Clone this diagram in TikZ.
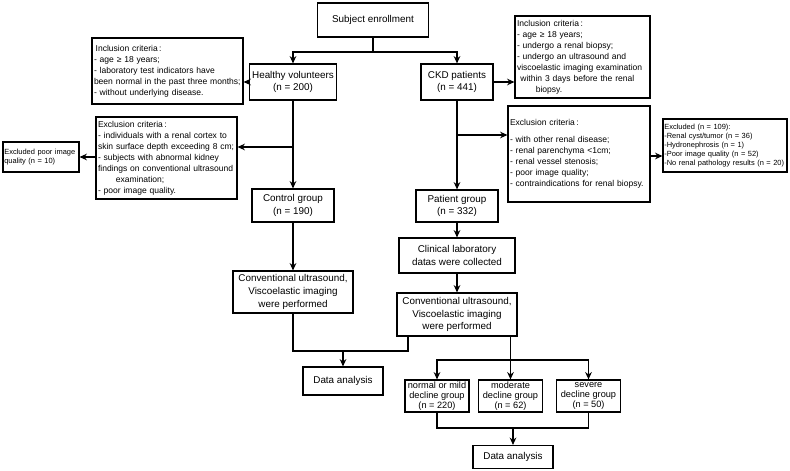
\documentclass[tikz,border=0pt]{standalone}
\usepackage{fontspec}
\setmainfont{Liberation Sans}
\usetikzlibrary{arrows.meta}

\tikzset{
  box/.style={draw, rectangle, align=center, inner sep=1.5pt,
    font=\fontsize{7.4}{9.5}\selectfont},
  subbox/.style={box, inner ysep=1pt, font=\fontsize{6.9}{7.5}\selectfont},
  crit/.style={draw, rectangle, align=left, inner xsep=1.5pt, inner ysep=1pt,
    font=\fontsize{6.4}{8.2}\selectfont},
  tinycrit/.style={crit, inner xsep=1pt, font=\fontsize{5.6}{6.8}\selectfont},
  arr/.style={-{Stealth[length=5.5pt,width=5pt]}}
}

\begin{document}
\begin{tikzpicture}[x=0.75pt, y=-0.75pt, line width=0.9pt]
        \useasboundingbox (0,0) rectangle (790,471);
        % Define the nodes
        \node[box, minimum width=83pt, minimum height=25.5pt]   (enroll)   at (373,20)    {Subject enrollment};
        \node[box, minimum width=65pt, minimum height=27pt]     (healthy)  at (293,82)    {Healthy volunteers\\(n = 200)};
        \node[box, minimum width=54pt, minimum height=27pt]     (ckd)      at (457,82)    {CKD patients\\(n = 441)};
        \node[crit, text width=110.25pt, minimum height=49.5pt] (hinc)     at (167.5,71)  {\hspace*{0.2em}Inclusion criteria\,:\\
            - age ≥ 18 years;\\
            - laboratory test indicators have\\
            been normal in the past three months;\\
            - without underlying disease.};
        \node[crit, text width=98.25pt, minimum height=61.5pt]  (cinc)     at (582.5,57)  {Inclusion criteria\,:\\
            - age ≥ 18 years;\\
            - undergo a renal biopsy;\\
            - undergo an ultrasound and\\
            viscoelastic imaging examination\\
            \hspace*{0.4em}within 3 days before the renal\\
            \hspace*{2.2em}biopsy.};
        \node[crit, text width=102.75pt, minimum height=61.5pt] (hexc)     at (166.5,158) {Exclusion criteria\,:\\
            - individuals with a renal cortex to\\
            skin surface depth exceeding 8 cm;\\
            - subjects with abnormal kidney\\
            findings on conventional ultrasound\\
            \hspace*{2.1em}examination;\\
            - poor image quality.};
        \node[tinycrit, text width=55pt, minimum height=22.5pt] (hpoor)    at (41,157)    {Excluded poor image\\quality (n = 10)};
        \node[crit, text width=103.5pt, minimum height=72pt]    (cexc)     at (579,154)   {Exclusion criteria\,:\\[4.5pt]
            - with other renal disease;\\
            - renal parenchyma <1cm;\\
            - renal vessel stenosis;\\
            - poor image quality;\\
            - contraindications for renal biopsy.};
        \node[tinycrit, text width=91pt, minimum height=39.75pt] (cexcl)   at (725,145.5) {Excluded (n = 109):\\
            -Renal cyst/tumor (n = 36)\\
            -Hydronephrosis (n = 1)\\
            -Poor image quality (n = 52)\\
            -No renal pathology results (n = 20)};
        \node[box, minimum width=61.5pt, minimum height=24.75pt] (control) at (293,205.5) {Control group\\(n = 190)};
        \node[box, minimum width=61.5pt, minimum height=24pt]    (patient) at (457,206)   {Patient group\\(n = 332)};
        \node[box, minimum width=87pt, minimum height=26.25pt]   (clin)    at (457,255.5) {Clinical laboratory\\datas were collected};
        \node[box, minimum width=90pt, minimum height=31.5pt]    (lconv)   at (293,292)   {Conventional ultrasound,\\Viscoelastic imaging\\were performed};
        \node[box, minimum width=90pt, minimum height=32.25pt]   (rconv)   at (457,314.5) {Conventional ultrasound,\\Viscoelastic imaging\\were performed};
        \node[box, minimum width=60pt, minimum height=21pt]      (data1)   at (343,381)   {Data analysis};
        \node[subbox, minimum width=48pt, minimum height=24pt]   (mild)    at (437,396)   {normal or mild\\decline group\\(n = 220)};
        \node[subbox, minimum width=48.5pt, minimum height=24pt] (moderate) at (510.5,396) {moderate\\decline group\\(n = 62)};
        \node[subbox, minimum width=48.5pt, minimum height=24pt] (severe)  at (588.5,396) {severe\\decline group\\(n = 50)};
        \node[box, minimum width=60pt, minimum height=17.25pt]   (data2)   at (513,457)   {Data analysis};
        % Branch and merge points
        \coordinate (split)  at (373,52);
        \coordinate (hsplit) at (293,147);
        \coordinate (csplit) at (457,135);
        \coordinate (mergeL) at (343,351);
        \coordinate (mergeR) at (408,351);
        \coordinate (sub)    at (510.5,360);
        \coordinate (mergeB) at (513,428);
        % Connect the nodes
        \draw (enroll) -- (split);
        \draw[arr] (split) -| (healthy);
        \draw[arr] (split) -| (ckd);
        \draw[arr] (healthy) -- (hinc.east |- healthy);
        \draw[arr] (healthy) -- (control);
        \draw[arr] (hsplit) -- (hexc.east |- hsplit);
        \draw[arr] (hexc.west |- hpoor) -- (hpoor);
        \draw[arr] (ckd) -- (cinc.west |- ckd);
        \draw[arr] (ckd) -- (patient);
        \draw[arr] (csplit) -- (cexc.west |- csplit);
        \draw[arr] (cexc.east |- 0,156) -- (cexcl.west |- 0,156);
        \draw[arr] (control) -- (lconv);
        \draw[arr] (patient) -- (clin);
        \draw[arr] (clin) -- (rconv);
        \draw (lconv) |- (mergeR) -- (rconv.south -| mergeR);
        \draw[arr] (mergeL) -- (data1);
        \draw (rconv.south -| sub) -- (sub);
        \draw[arr] (sub) -| (mild);
        \draw[arr] (sub) -- (moderate);
        \draw[arr] (sub) -| (severe);
        \draw (mild) |- (severe.south |- mergeB) -- (severe);
        \draw[arr] (mergeB) -- (data2);
    \end{tikzpicture}
\end{document}
